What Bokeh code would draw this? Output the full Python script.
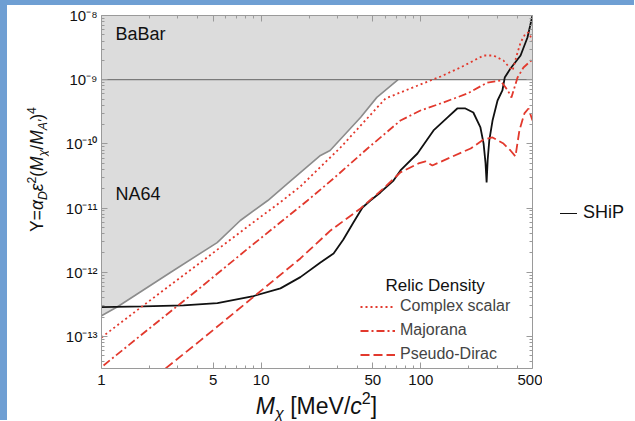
from bokeh.plotting import figure
from bokeh.models import (Range1d, LogAxis, FixedTicker, Label, Legend, LegendItem,
                          CustomJSTickFormatter, Div)
from bokeh.layouts import row, column
from bokeh.embed import file_html
from bokeh.resources import INLINE

# ---------------- data ----------------
x_min, x_max = 1, 500
y_min, y_max = 10 ** -13.5, 1e-8
babar_limit = 1e-9

x_ticks = [1, 5, 10, 50, 100, 500]
x_tick_labels = ["1", "5", "10", "50", "100", "500"]
x_minor = [2, 3, 4, 6, 7, 8, 9, 20, 30, 40, 60, 70, 80, 90, 200, 300, 400]
y_ticks = [1e-13, 1e-12, 1e-11, 1e-10, 1e-9, 1e-8]
y_tick_labels = ["10⁻¹³", "10⁻¹²", "10⁻¹¹", "10⁻¹⁰", "10⁻⁹", "10⁻⁸"]
y_minor = [k * 10.0 ** e for e in range(-14, -8) for k in range(2, 10)]

# NA64 excluded region boundary
na64_m = [1, 1.26, 2.7, 5.3, 7.4, 11, 14.6, 23.5, 27, 42, 53, 72]
na64_y = [2.1e-13, 2.9e-13, 9.9e-13, 2.9e-12, 6.4e-12, 1.31e-11, 2.4e-11,
          6.6e-11, 7.9e-11, 2.6e-10, 5.3e-10, 1.0e-9]

# SHiP sensitivity
ship_m = [1, 1.83, 3.26, 5.32, 8.95, 13.2, 17.6, 23.5, 28.4, 32.7, 37.8, 43.1,
          48.3, 55.8, 67.4, 74.5, 95.2, 120, 147, 169, 190, 213, 236, 247, 254,
          258, 262, 268, 281, 302, 324, 335, 364, 421, 465, 500]
ship_y = [2.86e-13, 2.93e-13, 3.04e-13, 3.30e-13, 4.25e-13, 5.60e-13, 8.39e-13,
          1.42e-12, 1.96e-12, 3.24e-12, 5.97e-12, 1.02e-11, 1.31e-11, 1.75e-11,
          2.69e-11, 3.85e-11, 7.08e-11, 1.62e-10, 2.58e-10, 3.56e-10, 3.56e-10,
          3.08e-10, 1.80e-10, 1.01e-10, 5.0e-11, 2.5e-11, 5.6e-11, 1.12e-10,
          2.31e-10, 4.74e-10, 6.79e-10, 1.08e-9, 1.49e-9, 2.38e-9, 4.54e-9, 1.0e-8]

# Relic density targets
cs_m = [1, 1.83, 4.17, 8.57, 13.6, 17.6, 31.4, 60, 86, 133, 177, 247, 285, 329,
        350, 375, 398, 421, 452, 472, 500]
cs_y = [9.64e-14, 3.04e-13, 1.42e-12, 5.56e-12, 1.31e-11, 2.17e-11, 8.79e-11,
        5.09e-10, 7.30e-10, 1.12e-9, 1.55e-9, 2.38e-9, 2.38e-9, 1.99e-9, 1.66e-9,
        1.39e-9, 2.38e-9, 3.79e-9, 5.25e-9, 5.43e-9, 4.08e-9]

mj_m = [1.03, 2.03, 4.17, 8.57, 19.5, 28.4, 46.3, 74.5, 99.4, 133, 196, 261,
        315, 350, 369, 403, 439, 500]
mj_y = [3.53e-14, 1.38e-13, 5.79e-13, 2.52e-12, 1.31e-11, 2.89e-11, 8.47e-11,
        2.31e-10, 3.31e-10, 4.26e-10, 6.10e-10, 9.03e-10, 9.72e-10, 6.79e-10,
        5.28e-10, 1.08e-9, 1.55e-9, 2.07e-9]

pd_m = [2.52, 4.17, 8.57, 17.6, 27.2, 41.9, 58.3, 74.5, 96.6, 107, 118, 153,
        205, 247, 281, 329, 364, 391, 414, 445, 472, 500]
pd_y = [3.18e-14, 8.67e-14, 3.77e-13, 1.64e-12, 4.48e-12, 9.86e-12, 2.02e-11,
        3.59e-11, 4.95e-11, 5.32e-11, 4.61e-11, 6.14e-11, 8.47e-11, 1.17e-10,
        1.26e-10, 1.01e-10, 7.89e-11, 6.37e-11, 1.62e-10, 2.98e-10, 3.56e-10,
        2.31e-10]

legend_labels = ["Complex scalar", "Majorana", "Pseudo-Dirac"]
ship_label = "SHiP"

FONT = "Liberation Sans"
RED = "#e2392d"
AXC = "#9a9a9a"
BLUE = "#6f9fd3"

# ---------------- figure ----------------
p = figure(width=494, height=387, x_axis_type="log", y_axis_type="log",
           x_range=Range1d(x_min, x_max), y_range=Range1d(y_min, y_max),
           output_backend="svg", toolbar_location=None,
           min_border_left=53, min_border_right=10, min_border_top=10,
           min_border_bottom=24, margin=0)
p.xgrid.visible = False
p.ygrid.visible = False
p.outline_line_color = None
p.background_fill_color = "white"
p.border_fill_color = "white"

fmt_code = """
const i = tvals.findIndex(t => Math.abs(Math.log10(t) - Math.log10(tick)) < 1e-6);
return i >= 0 ? tlabels[i] : "";
"""
xfmt = CustomJSTickFormatter(args=dict(tvals=x_ticks, tlabels=x_tick_labels), code=fmt_code)
yfmt = CustomJSTickFormatter(args=dict(tvals=y_ticks, tlabels=y_tick_labels), code=fmt_code)
blank = CustomJSTickFormatter(code='return "";')

bottom = p.below[0]
left = p.left[0]
bottom.ticker = FixedTicker(ticks=x_ticks, minor_ticks=x_minor)
bottom.formatter = xfmt
left.ticker = FixedTicker(ticks=y_ticks, minor_ticks=y_minor)
left.formatter = yfmt

top = LogAxis(ticker=FixedTicker(ticks=x_ticks, minor_ticks=x_minor), formatter=blank)
right = LogAxis(ticker=FixedTicker(ticks=y_ticks, minor_ticks=y_minor), formatter=blank)
for ax in (top, right):
    ax.major_label_standoff = 0
    ax.major_label_text_font_size = "8px"
p.add_layout(top, "above")
p.add_layout(right, "right")

for ax in (bottom, left, top, right):
    ax.axis_line_color = AXC
    ax.major_tick_line_color = AXC
    ax.minor_tick_line_color = AXC
    ax.major_tick_in = 6
    ax.major_tick_out = 0
    ax.minor_tick_in = 3
    ax.minor_tick_out = 0
    ax.major_label_text_font = FONT
    ax.major_label_text_color = "#111111"

bottom.major_label_text_font_size = "15px"
bottom.major_label_standoff = 6
left.major_label_text_font_size = "15px"
left.major_label_standoff = 4

# ---------------- excluded regions ----------------
region_x = na64_m + [x_max, x_max, x_min]
region_y = na64_y + [babar_limit, y_max, y_max]
p.patch(region_x, region_y, fill_color="#dcdcdc", line_color=None)
p.line(na64_m, na64_y, line_color="#8c8c8c", line_width=1.6)
p.line([x_min, x_max], [babar_limit, babar_limit], line_color="#7a7a7a", line_width=1.3)

# ---------------- curves ----------------
r_ship = p.line(ship_m, ship_y, line_color="#111111", line_width=1.8)
r_cs = p.line(cs_m, cs_y, line_color=RED, line_width=1.8, line_dash="2 3")
r_mj = p.line(mj_m, mj_y, line_color=RED, line_width=1.8, line_dash="8 3 2 3")
r_pd = p.line(pd_m, pd_y, line_color=RED, line_width=1.8, line_dash="9 4")

leg = Legend(items=[LegendItem(label=legend_labels[0], renderers=[r_cs]),
                    LegendItem(label=legend_labels[1], renderers=[r_mj]),
                    LegendItem(label=legend_labels[2], renderers=[r_pd])],
             location=(259, 5), glyph_width=35, glyph_height=17, label_height=17,
             label_standoff=5, spacing=6, padding=0, margin=0,
             label_text_font=FONT, label_text_font_size="16px",
             border_line_color=None, background_fill_alpha=0)
p.add_layout(leg, "center")

# ---------------- in-frame text labels ----------------
def lab(x, y, text, size):
    p.add_layout(Label(x=x, y=y, x_units="screen", y_units="screen", text=text,
                       text_font=FONT, text_font_size=f"{size}px",
                       text_color="#111111", text_align="left",
                       text_baseline="alphabetic"))

lab(14, 335, "BaBar", 18)
lab(14, 175, "NA64", 18)
lab(284, 83, "Relic Density", 17)

# ---------------- axis titles (rich text) ----------------
def sub(t):
    return f'<span style="font-size:70%;vertical-align:-0.3em;line-height:0">{t}</span>'

def sup(t):
    return f'<span style="font-size:70%;vertical-align:0.6em;line-height:0">{t}</span>'

def it(t):
    return f"<i>{t}</i>"

y_title_html = ("Y=" + it("α") + sub(it("D")) + it("ε") + sup("2") + "(" + it("M")
                + sub(it("χ")) + "/" + it("M") + sub(it("A′")) + ")" + sup("4"))
x_title_html = it("M") + sub(it("χ")) + " [MeV/" + it("c") + sup("2") + "]"

left_strip = {"background": f"linear-gradient(to right, {BLUE} 7px, transparent 7px)"}

top_strip = Div(text="", width=634, height=5, margin=0,
                styles={"background-color": BLUE})
ydiv = Div(text=('<div style="height:330px;width:24px;margin-left:25px;'
                 'writing-mode:vertical-rl;text-orientation:sideways;'
                 'transform:rotate(180deg);text-align:center;'
                 "font-family:'Liberation Sans';font-size:17.5px;line-height:24px;"
                 f'white-space:nowrap;color:#111">{y_title_html}</div>'),
           width=48, height=387, margin=0, styles=left_strip)
xdiv = Div(text=('<div style="margin-left:101px;width:431px;text-align:center;'
                 "font-family:'Liberation Sans';font-size:23px;line-height:28px;"
                 f'white-space:nowrap;color:#111">{x_title_html}</div>'),
           width=634, height=28, margin=0, styles=left_strip)
ship_div = Div(text=('<div style="margin-top:197px;margin-left:18px;'
                     "font-family:'Liberation Sans';font-size:18px;line-height:20px;"
                     'white-space:nowrap;color:#111">'
                     '<span style="display:inline-block;width:17px;height:0;'
                     'border-top:1.8px solid #111;vertical-align:middle;'
                     f'margin-right:6px"></span>{ship_label}</div>'),
               width=92, height=387, margin=0)

layout = column(top_strip, row(ydiv, p, ship_div, spacing=0), xdiv, spacing=0)

open("out.html", "w").write(file_html(layout, INLINE))
